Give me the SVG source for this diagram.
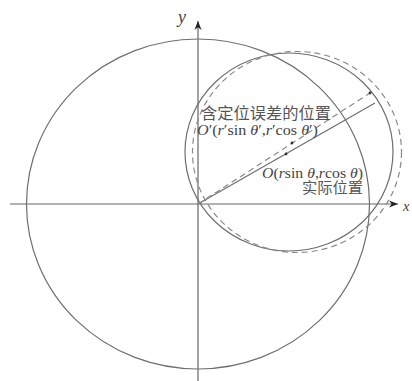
<svg xmlns="http://www.w3.org/2000/svg" width="412" height="381" viewBox="0 0 412 381">
<style>
.ln{fill:none;stroke:#6e6e6e;stroke-width:1.2}
.ds{fill:none;stroke:#8a8a8a;stroke-width:1.2;stroke-dasharray:6 4}
.ax{stroke:#666;stroke-width:1.2}
.cn{font-family:"Liberation Serif","Noto Sans CJK SC",serif;font-size:16px;fill:#555}
.mt{font-family:"Liberation Serif",serif;font-size:14.5px;fill:#444}
.it{font-style:italic}
.dot{fill:#333}
</style>
<defs>
<marker id="arr" viewBox="0 0 10 10" refX="10" refY="5" markerWidth="9" markerHeight="9" markerUnits="userSpaceOnUse" orient="auto">
<path d="M0,1 L10,5 L0,9 L3,5 Z" fill="#222"/>
</marker>
</defs>
<g id="axes">
<line class="ax" x1="10" y1="204" x2="398" y2="204" marker-end="url(#arr)"/>
<line class="ax" x1="198" y1="381" x2="198" y2="21" marker-end="url(#arr)"/>
<text x="403" y="211" class="mt it" font-size="18">x</text>
<text x="178" y="23" class="mt it" style="font-size:18px">y</text>
</g>
<g id="big-circle"><ellipse class="ln" cx="198" cy="204" rx="171.5" ry="165"/></g>
<g id="actual-circle"><ellipse class="ln" cx="289" cy="152" rx="104" ry="99"/></g>
<g id="error-circle"><ellipse class="ds" cx="297" cy="152" rx="104.5" ry="100.5"/></g>
<g id="connectors">
<line class="ln" x1="198" y1="204" x2="375" y2="103"/>
<line class="ds" x1="198" y1="204" x2="370" y2="93"/>
</g>
<g id="points">
<circle class="dot" cx="286" cy="154" r="1.4"/>
<circle class="dot" cx="292" cy="143" r="1.4"/>
<circle class="dot" cx="370" cy="93" r="1.4"/>
</g>
<g id="label-error">
<text class="cn" x="201" y="119" textLength="130" lengthAdjust="spacingAndGlyphs">含定位误差的位置</text>
<text class="mt" x="197" y="135" textLength="121" lengthAdjust="spacingAndGlyphs"><tspan class="it">O</tspan>′(<tspan class="it">r</tspan>′sin <tspan class="it">θ</tspan>′,<tspan class="it">r</tspan>′cos <tspan class="it">θ</tspan>′)</text>
</g>
<g id="label-actual">
<text class="mt" x="262" y="178" textLength="101" lengthAdjust="spacingAndGlyphs"><tspan class="it">O</tspan>(<tspan class="it">r</tspan>sin <tspan class="it">θ</tspan>,<tspan class="it">r</tspan>cos <tspan class="it">θ</tspan>)</text>
<text class="cn" x="302" y="193" textLength="61" lengthAdjust="spacingAndGlyphs" style="font-size:15px">实际位置</text>
</g>
</svg>
